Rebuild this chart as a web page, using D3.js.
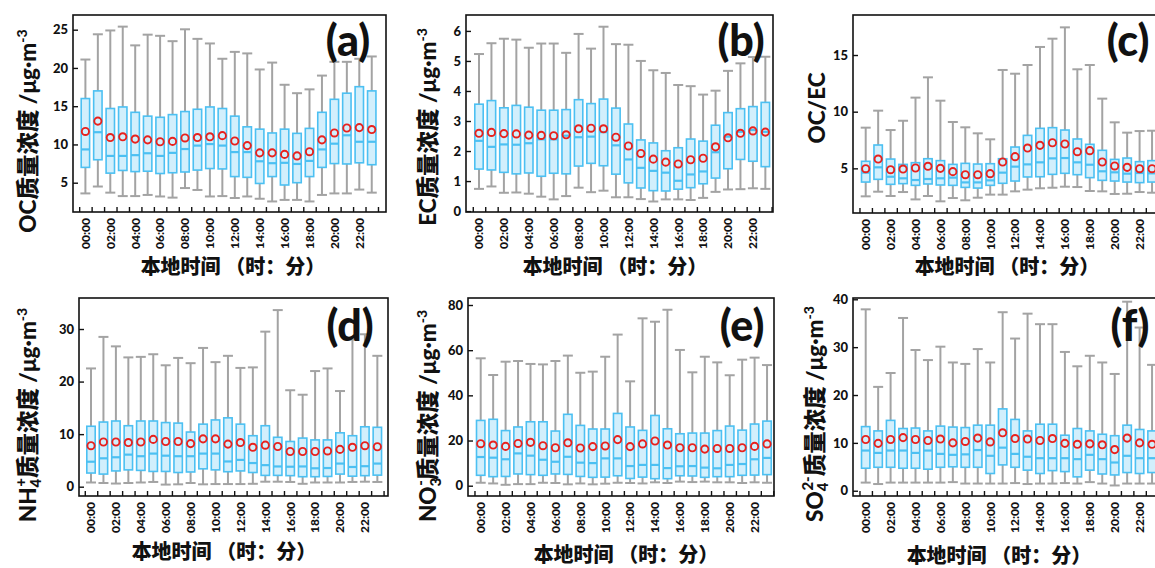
<!DOCTYPE html>
<html><head><meta charset="utf-8">
<script src="https://cdn.jsdelivr.net/npm/d3@7/dist/d3.min.js"></script>
<style>
body{margin:0;background:#fff;overflow:hidden;}
svg{display:block;}
text{font-family:Lato,"Noto Sans CJK SC",sans-serif;font-weight:900;fill:#111;}
</style></head><body>
<svg id="c" width="1155" height="568"></svg>
<script>
// ---------------- DATA ----------------
const hours = ["00:00","01:00","02:00","03:00","04:00","05:00","06:00","07:00","08:00","09:00","10:00","11:00",
               "12:00","13:00","14:00","15:00","16:00","17:00","18:00","19:00","20:00","21:00","22:00","23:00"];
const hourTickLabels = ["00:00","02:00","04:00","06:00","08:00","10:00","12:00","14:00","16:00","18:00","20:00","22:00"];

// (a) OC
const ocHigh = [21.1,24.4,24.9,25.4,22.95,24.35,24.2,23.5,25.05,23.8,23.2,21.2,22.1,21.9,19.8,20.7,17.8,16.7,17.2,19.0,20.8,20.8,21.2,21.5];
const ocQ3   = [16.0,17.0,14.7,14.9,14.2,13.7,13.55,13.9,14.3,14.6,14.9,14.7,13.7,12.3,12.0,11.5,12.0,11.45,12.1,14.2,15.9,16.7,17.55,17.0];
const ocMed  = [9.35,11.6,8.5,8.5,8.6,8.85,8.5,8.9,9.4,9.85,10.05,9.85,9.0,9.0,7.8,7.55,7.6,7.45,7.85,9.35,10.1,11.2,10.35,10.35];
const ocQ1   = [7.0,8.0,6.25,6.6,6.45,6.5,6.2,6.3,6.4,6.65,6.85,6.8,5.8,5.7,4.9,5.8,4.7,5.0,5.8,7.0,7.5,7.45,7.6,7.35];
const ocLow  = [3.6,4.5,3.7,3.25,3.25,3.4,3.2,3.05,4.3,4.05,3.2,3.25,3.0,3.2,2.9,2.55,2.75,2.75,2.55,3.4,3.6,3.6,4.1,3.7];
const ocMean = [11.7,13.05,10.9,11.0,10.7,10.6,10.35,10.4,10.85,10.9,11.0,11.15,10.45,9.85,8.9,8.9,8.7,8.5,9.05,10.6,11.5,12.15,12.2,11.95];

// (b) EC
const ecHigh = [5.23,5.59,5.74,5.71,5.44,5.58,5.58,5.27,5.9,5.41,6.14,5.56,5.54,5.0,4.69,4.6,4.2,4.16,3.88,4.01,4.67,4.92,5.13,5.14];
const ecQ3   = [3.56,3.68,3.44,3.52,3.46,3.36,3.36,3.38,3.71,3.58,3.73,3.43,2.9,2.37,2.27,2.01,2.11,2.4,2.33,2.86,3.28,3.41,3.48,3.62];
const ecMed  = [2.34,2.14,2.22,2.21,2.26,2.39,2.39,2.51,2.46,2.48,2.63,2.19,1.72,1.44,1.34,1.28,1.01,1.22,1.32,1.96,2.48,2.64,2.7,2.64];
const ecQ1   = [1.4,1.37,1.29,1.24,1.27,1.16,1.26,1.24,1.5,1.59,1.51,1.23,0.94,0.77,0.68,0.67,0.73,0.78,0.91,1.1,1.41,1.72,1.66,1.48];
const ecLow  = [0.74,0.82,0.61,0.62,0.58,0.48,0.39,0.5,0.78,0.63,0.68,0.46,0.46,0.4,0.32,0.39,0.39,0.37,0.44,0.64,0.72,0.73,0.76,0.74];
const ecMean = [2.59,2.62,2.58,2.57,2.53,2.52,2.51,2.54,2.74,2.76,2.74,2.46,2.17,1.92,1.73,1.63,1.57,1.71,1.76,2.14,2.44,2.59,2.67,2.63];

// (c) OC/EC
const rHigh = [8.59,10.09,8.38,9.2,11.24,13.03,10.97,9.09,8.62,8.09,7.56,13.68,13.35,14.12,15.71,16.44,17.44,13.74,14.12,11.15,9.06,8.15,8.29,8.32];
const rQ3   = [5.62,7.06,5.82,5.35,5.5,5.85,5.68,5.35,5.44,5.38,5.41,5.85,6.88,7.91,8.53,8.59,8.38,7.59,7.12,6.59,5.79,5.91,5.59,5.68];
const rMed  = [4.62,5.09,4.26,4.12,3.97,4.06,4.12,4.18,3.76,3.76,3.94,4.62,5.15,5.35,5.53,5.88,5.91,5.53,5.32,4.74,4.65,4.53,4.59,4.56];
const rQ1   = [3.79,4.03,3.59,3.65,3.5,3.62,3.53,3.5,3.32,3.26,3.5,3.68,3.88,4.24,4.26,4.47,4.56,4.44,4.18,3.94,3.88,3.79,3.74,3.79];
const rLow  = [2.53,2.94,2.56,2.91,2.26,2.56,2.09,2.38,2.18,2.41,2.68,2.68,2.97,3.12,3.24,3.29,3.38,3.35,3.0,2.97,2.74,2.76,2.91,2.85];
const rMean = [4.97,5.82,4.88,4.94,5.03,5.18,5.0,4.71,4.44,4.44,4.53,5.56,6.03,6.79,7.03,7.26,7.15,6.47,6.56,5.56,5.21,5.09,4.97,4.97];

// (d) NH4+
const nhHigh = [22.5,28.5,26.7,24.6,24.7,25.2,23.1,24.5,23.5,26.4,23.7,24.9,22.6,22.7,29.5,33.6,18.35,17.5,22.0,22.5,18.2,28.0,29.0,24.9];
const nhQ3   = [11.5,12.3,12.5,11.6,12.5,12.5,12.2,12.1,10.4,11.9,12.7,13.1,11.9,9.7,11.6,9.4,8.6,9.25,8.9,8.9,10.25,9.7,11.4,11.3];
const nhMed  = [4.75,5.4,5.6,6.1,5.8,6.3,5.9,5.8,5.8,6.3,6.3,4.8,5.1,4.5,4.1,3.85,3.8,3.85,3.5,3.55,4.4,3.75,3.9,4.4];
const nhQ1   = [2.6,2.4,3.0,3.2,3.1,2.9,2.9,2.7,2.8,3.4,3.2,2.85,3.0,2.7,2.15,2.15,2.1,1.9,1.9,1.95,2.4,2.0,2.1,2.2];
const nhLow  = [0.8,0.7,0.6,0.7,0.8,0.9,0.4,0.45,0.7,0.45,0.5,0.5,0.5,0.55,0.95,0.95,0.9,0.55,0.8,0.8,0.8,0.9,0.95,0.9];
const nhMean = [7.8,8.5,8.5,8.4,8.5,9.0,8.6,8.6,8.2,9.1,9.1,8.1,8.4,7.5,7.9,7.65,6.7,6.7,6.7,6.8,7.1,7.5,7.8,7.6];

// (e) NO3-
const noHigh = [56.4,49.0,54.9,55.2,53.9,53.7,55.2,57.6,50.0,50.5,57.1,66.9,46.2,74.1,72.6,77.9,60.1,50.2,57.1,54.6,48.9,55.8,56.7,53.4];
const noQ3   = [28.9,29.4,24.4,26.0,28.3,28.3,24.2,31.6,26.7,25.1,25.1,32.0,26.0,24.5,31.1,25.2,23.0,23.3,23.3,24.4,26.4,24.6,27.3,28.6];
const noMed  = [12.7,12.4,11.7,14.3,13.3,11.5,10.6,12.8,10.2,10.0,12.1,12.1,8.7,9.2,9.2,7.8,8.6,8.7,8.0,7.7,9.2,9.6,11.7,12.3];
const noQ1   = [4.6,4.0,4.1,5.2,4.9,4.6,5.2,5.0,4.1,3.7,3.8,4.4,3.2,3.8,3.1,3.1,4.4,4.3,3.7,4.0,4.0,4.6,4.7,4.9];
const noLow  = [1.3,1.0,0.4,0.7,0.7,1.3,1.2,0.6,1.0,0.6,0.9,1.3,1.2,1.0,1.5,1.2,1.8,1.6,1.8,1.5,1.5,1.2,1.5,1.3];
const noMean = [18.6,18.0,17.4,18.7,19.2,17.7,16.8,19.0,16.7,17.3,17.6,20.4,17.3,18.5,19.8,18.0,16.8,16.8,16.2,16.5,16.5,16.8,17.4,18.5];

// (f) SO4 2-
const soHigh = [37.9,21.7,24.6,36.1,29.4,27.3,30.1,26.8,26.5,29.6,26.8,37.3,31.8,37.0,34.8,34.8,29.0,26.0,28.2,26.8,24.4,39.5,34.1,26.3];
const soQ3   = [13.4,12.5,14.7,13.0,13.1,12.5,13.5,13.3,13.2,13.7,13.7,17.1,14.9,12.5,13.9,13.9,11.6,13.0,12.5,11.8,11.5,13.7,12.8,12.5];
const soMed  = [8.4,7.9,8.4,8.4,7.9,8.4,7.7,7.5,7.6,8.5,7.3,9.0,7.7,7.1,6.8,6.8,6.8,6.6,7.5,6.6,5.9,7.3,6.8,6.8];
const soQ1   = [4.7,4.9,4.9,4.7,4.7,4.5,4.9,5.0,4.9,4.9,3.6,5.4,4.9,4.3,3.6,4.2,4.0,2.9,4.3,3.5,3.3,3.8,3.6,3.8];
const soLow  = [1.7,1.4,1.7,1.7,1.7,1.7,1.7,1.8,1.5,1.5,1.5,1.5,1.6,1.4,1.5,1.5,1.6,1.5,1.8,1.5,1.1,1.5,1.5,1.5];
const soMean = [10.7,9.9,10.7,11.1,10.7,10.5,10.8,10.0,10.3,11.0,10.2,12.1,10.9,10.8,10.5,10.9,9.9,9.7,9.8,9.6,8.6,11.0,10.0,9.7];

// y tick values
const ocTicks = [5,10,15,20,25];
const ecTicks = [0,1,2,3,4,5,6];
const rTicks  = [5,10,15];
const nhTicks = [0,10,20,30];
const noTicks = [0,20,40,60,80];
const soTicks = [0,10,20,30,40];

// ---------------- LAYOUT ----------------
const svg = d3.select("#c");
const BOX_STEP = 12.45;

const panels = [
  {tag:"(a)", low:ocLow, q1:ocQ1, med:ocMed, q3:ocQ3, high:ocHigh, mean:ocMean, ticks:ocTicks,
   left:73, right:386, top:15, bottom:212, dom:[1.17,26.92], first:12.4,
   ylab:{x:28,y:131,parts:[["OC质量浓度 /μg·m"],["-3","sup"]]}, xlab:{x:233,y:274}, tagPos:{x:348,y:56}},
  {tag:"(b)", low:ecLow, q1:ecQ1, med:ecMed, q3:ecQ3, high:ecHigh, mean:ecMean, ticks:ecTicks,
   left:466, right:773, top:15, bottom:212, dom:[-0.03,6.53], first:13,
   ylab:{x:428,y:127,parts:[["EC质量浓度 /μg·m"],["-3","sup"]]}, xlab:{x:615,y:274}, tagPos:{x:741,y:56}},
  {tag:"(c)", low:rLow, q1:rQ1, med:rMed, q3:rQ3, high:rHigh, mean:rMean, ticks:rTicks,
   left:853, right:1166, top:15, bottom:213, dom:[1.06,18.53], first:12.7,
   ylab:{x:817,y:108,parts:[["OC/EC"]]}, xlab:{x:1007,y:274}, tagPos:{x:1128,y:56}},
  {tag:"(d)", low:nhLow, q1:nhQ1, med:nhMed, q3:nhQ3, high:nhHigh, mean:nhMean, ticks:nhTicks,
   left:79, right:388, top:298, bottom:496, dom:[-1.77,35.9], first:12,
   ylab:{x:28,y:415,parts:[["NH"],["4","sub"],["+","supAfterSub"],["质量浓度 /μg·m","base"],["-3","sup"]]}, xlab:{x:224,y:559}, tagPos:{x:350,y:341}},
  {tag:"(e)", low:noLow, q1:noQ1, med:noMed, q3:noQ3, high:noHigh, mean:noMean, ticks:noTicks,
   left:468, right:774, top:298, bottom:496, dom:[-4.56,83.1], first:12.7,
   ylab:{x:428,y:416,parts:[["NO"],["3","sub"],["-","supAfterSub"],["质量浓度 /μg·m","base"],["-3","sup"]]}, xlab:{x:626,y:562}, tagPos:{x:742,y:341}},
  {tag:"(f)", low:soLow, q1:soQ1, med:soMed, q3:soQ3, high:soHigh, mean:soMean, ticks:soTicks,
   left:853, right:1166, top:298, bottom:496, dom:[-1.1,40.27], first:12.7,
   ylab:{x:815,y:414,parts:[["SO"],["4","sub"],["2-","supAfterSub"],["质量浓度 /μg·m","base"],["-3","sup"]]}, xlab:{x:999,y:563}, tagPos:{x:1130,y:341}}
];

const C_BOX_FILL = "#d2effc", C_BOX = "#4cc0f2", C_WHISK = "#a3a3a3", C_MEAN = "#e8211d";

panels.forEach(p => {
  const g = svg.append("g");
  const x = d3.scaleLinear().domain([0, hours.length - 1])
              .range([p.left + p.first, p.left + p.first + (hours.length - 1) * BOX_STEP]);
  const y = d3.scaleLinear().domain(p.dom).range([p.bottom, p.top]);
  const clipId = "clip" + p.tag.replace(/\W/g, "");
  svg.append("clipPath").attr("id", clipId).append("rect")
     .attr("x", p.left).attr("y", p.top).attr("width", p.right - p.left).attr("height", p.bottom - p.top);
  const marks = g.append("g").attr("clip-path", `url(#${clipId})`);

  const rows = hours.map((h, i) => ({i, low:p.low[i], q1:p.q1[i], med:p.med[i], q3:p.q3[i], high:p.high[i], mean:p.mean[i]}));
  const bw = 8.4, cw = 10;

  marks.selectAll(".wh").data(rows).join("line")
    .attr("x1", d => x(d.i)).attr("x2", d => x(d.i))
    .attr("y1", d => y(d.low)).attr("y2", d => y(d.high))
    .attr("stroke", C_WHISK).attr("stroke-width", 2);
  ["low","high"].forEach(k => {
    marks.selectAll(".cap" + k).data(rows).join("line")
      .attr("x1", d => x(d.i) - cw / 2).attr("x2", d => x(d.i) + cw / 2)
      .attr("y1", d => y(d[k])).attr("y2", d => y(d[k]))
      .attr("stroke", C_WHISK).attr("stroke-width", 2);
  });
  marks.selectAll(".bx").data(rows).join("rect")
    .attr("x", d => x(d.i) - bw / 2).attr("width", bw)
    .attr("y", d => y(d.q3)).attr("height", d => y(d.q1) - y(d.q3))
    .attr("fill", C_BOX_FILL).attr("stroke", C_BOX).attr("stroke-width", 1.6);
  marks.selectAll(".md").data(rows).join("line")
    .attr("x1", d => x(d.i) - bw / 2).attr("x2", d => x(d.i) + bw / 2)
    .attr("y1", d => y(d.med)).attr("y2", d => y(d.med))
    .attr("stroke", C_BOX).attr("stroke-width", 2.2);
  marks.selectAll(".mn").data(rows).join("circle")
    .attr("cx", d => x(d.i)).attr("cy", d => y(d.mean)).attr("r", 3.6)
    .attr("fill", "none").attr("stroke", C_MEAN).attr("stroke-width", 1.9);

  const ya = g.append("g").attr("transform", `translate(${p.left},0)`)
    .call(d3.axisLeft(y).tickValues(p.ticks).tickSize(-5).tickSizeOuter(0).tickPadding(5).tickFormat(d3.format("d")));
  ya.select(".domain").remove();
  ya.selectAll("line").attr("stroke", "#111").attr("stroke-width", 1.4);
  ya.selectAll("text").attr("font-size", 13).attr("fill", "#111")
    .style("font-family", "Lato, sans-serif").style("font-weight", "900");

  const xa = g.append("g").attr("transform", `translate(0,${p.bottom})`)
    .call(d3.axisBottom(x).tickValues(d3.range(-0.5, hours.length, 1)).tickSize(-5).tickSizeOuter(0).tickFormat(""));
  xa.select(".domain").remove();
  xa.selectAll("line").attr("stroke", "#111").attr("stroke-width", 1.4);
  g.selectAll(".xl").data(hourTickLabels).join("text")
    .attr("transform", d => `translate(${x(hours.indexOf(d))},${p.bottom + 6}) rotate(-90)`)
    .attr("text-anchor", "end").attr("dy", "0.36em")
    .attr("font-size", 12).text(d => d);

  g.append("rect").attr("x", p.left).attr("y", p.top)
    .attr("width", p.right - p.left).attr("height", p.bottom - p.top)
    .attr("fill", "none").attr("stroke", "#111").attr("stroke-width", 1.6);

  g.append("text").attr("x", p.tagPos.x).attr("y", p.tagPos.y).attr("text-anchor", "middle")
    .attr("font-size", 43).text(p.tag);

  const yl = g.append("text").attr("transform", `translate(${p.ylab.x},${p.ylab.y}) rotate(-90)`)
    .attr("text-anchor", "middle").attr("dy", "0.35em").attr("font-size", 22.5);
  p.ylab.parts.forEach(([t, kind]) => {
    const ts = yl.append("tspan").text(t);
    if (kind === "sup") ts.attr("dy", -9).attr("font-size", 14);
    else if (kind === "sub") ts.attr("dy", 5).attr("font-size", 15);
    else if (kind === "supAfterSub") ts.attr("dy", -15).attr("dx", -8).attr("font-size", 15);
    else if (kind === "base") ts.attr("dy", 10);
  });

  g.append("text").attr("x", p.xlab.x).attr("y", p.xlab.y).attr("text-anchor", "middle")
    .attr("font-size", 20).text("本地时间 （时：分）");
});
</script>
</body></html>
